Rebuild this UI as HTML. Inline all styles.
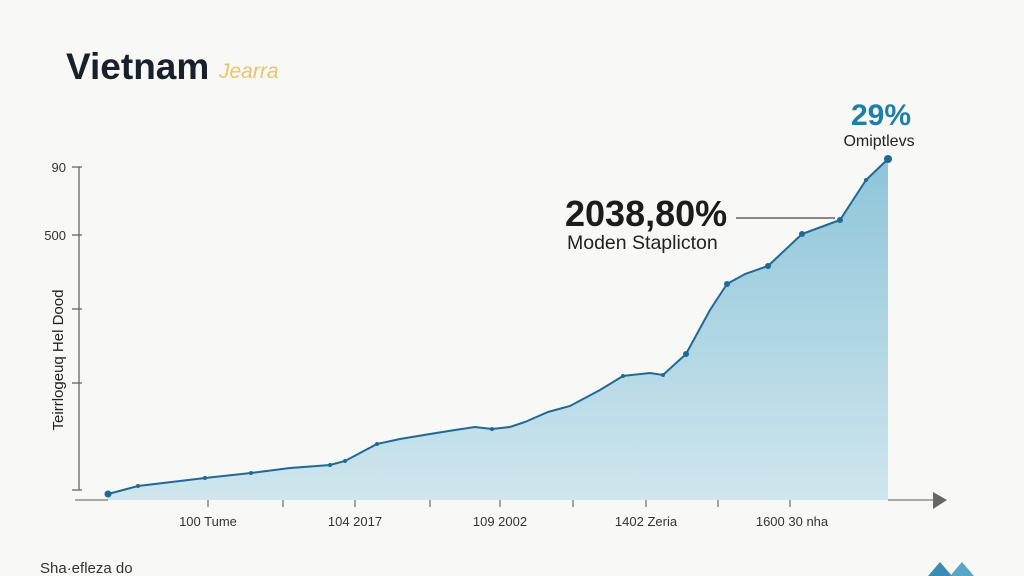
<!DOCTYPE html>
<html><head><meta charset="utf-8"><style>
html,body{margin:0;padding:0;background:#f8f8f6;}
svg{display:block;font-family:"Liberation Sans",sans-serif;}
</style></head><body>
<svg width="1024" height="576" viewBox="0 0 1024 576" xmlns="http://www.w3.org/2000/svg">
<defs>
<linearGradient id="g" x1="0" y1="0" x2="0" y2="1">
<stop offset="0" stop-color="#8ec5d9"/>
<stop offset="1" stop-color="#cfe6ee"/>
</linearGradient>
</defs>
<rect width="1024" height="576" fill="#f8f8f6"/>
<text x="66" y="79" font-size="37" font-weight="bold" fill="#18202c">Vietnam</text>
<text x="219" y="78" font-size="21" font-style="italic" fill="#e8c56a">Jearra</text>
<g stroke="#666" stroke-width="1.3" fill="none">
<line x1="79" y1="167" x2="79" y2="490"/>
<line x1="72" y1="167" x2="82" y2="167"/>
<line x1="72" y1="235" x2="82" y2="235"/>
<line x1="72" y1="309" x2="82" y2="309"/>
<line x1="72" y1="383" x2="82" y2="383"/>
<line x1="72" y1="490" x2="82" y2="490"/>
</g>
<text x="66" y="172" font-size="13" text-anchor="end" fill="#333">90</text>
<text x="66" y="240" font-size="13" text-anchor="end" fill="#333">500</text>
<text transform="translate(63,360) rotate(-90)" x="0" y="0" font-size="15" text-anchor="middle" fill="#222">Teirrlogeuq Hel Dood</text>
<path d="M108,494 L138,486 L205,478 L251,473 L290,468 L330,465 L345,461 L377,444 L400,439 L430,434 L455,430 L475,427 L492,429 L510,427 L525,422 L548,412 L570,406 L600,390 L623,376 L650,373 L663,375 L686,354 L710,310 L727,284 L745,274 L768,266 L802,234 L840,220 L866,180 L888,159 L888,500 L108,500 Z" fill="url(#g)"/>
<path d="M108,494 L138,486 L205,478 L251,473 L290,468 L330,465 L345,461 L377,444 L400,439 L430,434 L455,430 L475,427 L492,429 L510,427 L525,422 L548,412 L570,406 L600,390 L623,376 L650,373 L663,375 L686,354 L710,310 L727,284 L745,274 L768,266 L802,234 L840,220 L866,180 L888,159" fill="none" stroke="#1f6a94" stroke-width="2"/>
<g fill="#1f6a94">
<circle cx="108" cy="494" r="3.5"/><circle cx="138" cy="486" r="2"/><circle cx="205" cy="478" r="2"/><circle cx="251" cy="473" r="2"/><circle cx="330" cy="465" r="2"/><circle cx="345" cy="461" r="2"/><circle cx="377" cy="444" r="2"/><circle cx="492" cy="429" r="2"/><circle cx="623" cy="376" r="2"/><circle cx="663" cy="375" r="2"/><circle cx="686" cy="354" r="3"/><circle cx="727" cy="284" r="3"/><circle cx="768" cy="266" r="3"/><circle cx="802" cy="234" r="3"/><circle cx="840" cy="220" r="3"/><circle cx="866" cy="180" r="2"/><circle cx="888" cy="159" r="4"/>
</g>
<g stroke="#777" stroke-width="1.3">
<line x1="75" y1="500" x2="108" y2="500"/>
<line x1="888" y1="500" x2="935" y2="500"/>
<line x1="208" y1="500" x2="208" y2="507"/><line x1="283" y1="500" x2="283" y2="507"/><line x1="355" y1="500" x2="355" y2="507"/><line x1="430" y1="500" x2="430" y2="507"/><line x1="500" y1="500" x2="500" y2="507"/><line x1="573" y1="500" x2="573" y2="507"/><line x1="646" y1="500" x2="646" y2="507"/><line x1="718" y1="500" x2="718" y2="507"/><line x1="790" y1="500" x2="790" y2="507"/>
</g>
<polygon points="933,492 947,500 933,509" fill="#666"/>
<g font-size="13" fill="#333" text-anchor="middle">
<text x="208" y="526">100 Tume</text>
<text x="355" y="526">104 2017</text>
<text x="500" y="526">109 2002</text>
<text x="646" y="526">1402 Zeria</text>
<text x="792" y="526">1600 30 nha</text>
</g>
<text x="565" y="226" font-size="36" font-weight="bold" fill="#1c1c1c">2038,80%</text>
<text x="567" y="249" font-size="19.5" fill="#222">Moden Staplicton</text>
<line x1="736" y1="218" x2="835" y2="218" stroke="#444" stroke-width="1.3"/>
<text x="881" y="125" font-size="30" font-weight="bold" fill="#1f7fa6" text-anchor="middle">29%</text>
<text x="879" y="146" font-size="16" fill="#222" text-anchor="middle">Omiptlevs</text>
<text x="40" y="573" font-size="15" fill="#333">Sha·efleza do</text>
<polygon points="928,576 940,562 952,576" fill="#3a8cb3"/>
<polygon points="950,576 962,562 974,576" fill="#5aa5c6"/>
</svg>
</body></html>
